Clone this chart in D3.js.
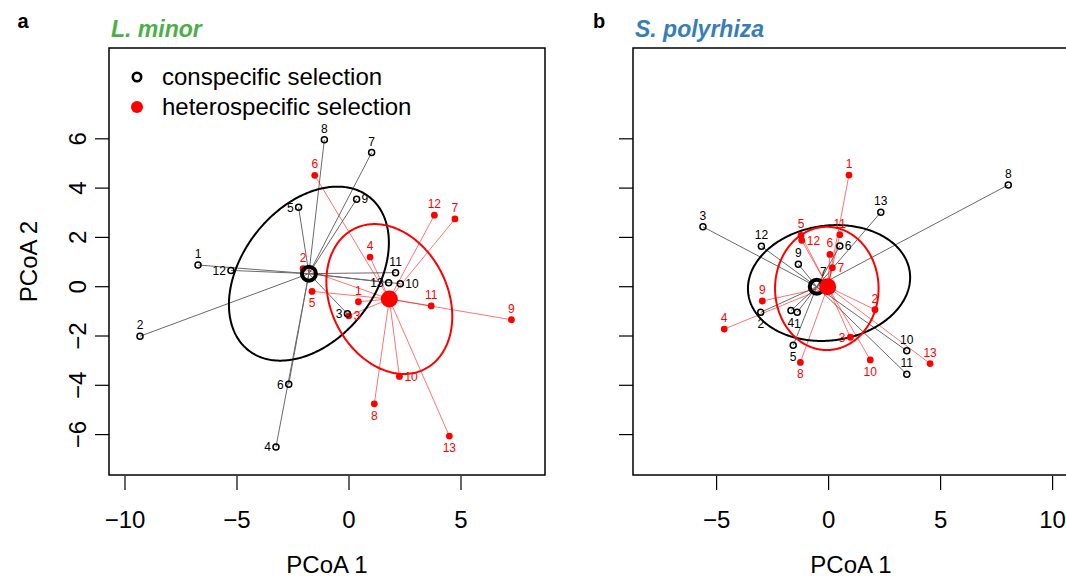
<!DOCTYPE html>
<html>
<head>
<meta charset="utf-8">
<script src="https://d3js.org/d3.v7.min.js"></script>
<style>
  html, body { margin: 0; padding: 0; background: #fff; }
  svg { display: block; font-family: "Liberation Sans", Arial, Helvetica, sans-serif; }
</style>
</head>
<body>
<svg id="chart" width="1066" height="579"></svg>
<script>
// ---------------- DATA ----------------
const ids = [1,2,3,4,5,6,7,8,9,10,11,12,13];

// Panel a (L. minor)
const aConX = [-6.74,-9.33,-0.07,-3.26,-2.25,-2.69, 1.01,-1.10, 0.34, 2.29, 2.08,-5.27, 1.77];
const aConY = [ 0.88,-2.01,-1.10,-6.50, 3.22,-3.96, 5.44, 5.96, 3.55, 0.12, 0.57, 0.66, 0.16];
const aHetX = [ 0.42,-2.05,-0.01, 0.94,-1.65,-1.53, 4.73, 1.13, 7.25, 2.25, 3.67, 3.81, 4.48];
const aHetY = [-0.61, 0.73,-1.18, 1.20,-0.19, 4.52, 2.75,-4.75,-1.34,-3.64,-0.78, 2.90,-6.06];
const aConCentroid = [-1.79, 0.53];
const aHetCentroid = [ 1.80,-0.50];
// ellipse: [cx, cy, sdx, sdy, rho]
const aConEllipse = [-1.79, 0.53, 3.57, 3.53, 0.356];
const aHetEllipse = [ 1.80,-0.50, 2.81, 3.04,-0.233];

// Panel b (S. polyrhiza)
const bConX = [-1.40,-3.03,-5.61,-1.68,-1.58, 0.50,-0.24, 8.02,-1.35, 3.49, 3.49,-3.00, 2.33];
const bConY = [-1.04,-1.04, 2.43,-0.97,-2.38, 1.65, 0.13, 4.13, 0.91,-2.60,-3.55, 1.64, 3.02];
const bHetX = [ 0.91, 2.07, 0.97,-4.66,-1.23, 0.06, 0.17,-1.26,-2.96, 1.86, 0.50,-1.20, 4.53];
const bHetY = [ 4.53,-0.93,-2.05,-1.72, 2.08, 1.31, 0.77,-3.07,-0.58,-2.97, 2.11, 1.88,-3.12];
const bConCentroid = [-0.53, 0.00];
const bHetCentroid = [-0.04, 0.00];
const bConEllipse = [ 0.02, 0.15, 3.62, 2.35, 0.096];
const bHetEllipse = [-0.08,-0.07, 2.31, 2.50, 0.0];

// label side codes (1 below, 2 left, 3 above, 4 right)
const aConPos = [3,3,2,2,2,2,3,3,4,4,3,2,2];
const aHetPos = [3,3,4,3,1,3,3,1,3,4,3,3,1];
const bConPos = [1,1,3,1,1,4,3,3,3,3,3,3,3];
const bHetPos = [3,3,2,3,3,3,4,1,3,1,3,4,3];

// axes
const aXTicks = [-10,-5,0,5];
const bXTicks = [-5,0,5,10];
const yTicks = [-6,-4,-2,0,2,4,6];
const aXLim = [-10.714, 8.75];
const bXLim = [-8.732, 10.732];
const yLim = [-7.639, 9.684];

const legendLabels = ["conspecific selection", "heterospecific selection"];

// ---------------- DRAW ----------------
const svg = d3.select("#chart");
const RED = "#ff0000";
const fmt = v => (v < 0 ? "\u2212" + Math.abs(v) : String(v));

function panel(opts) {
  const x = d3.scaleLinear().domain(opts.xlim).range([opts.left, opts.right]);
  const y = d3.scaleLinear().domain(yLim).range([475, 48]);
  const g = svg.append("g");
  const clipId = "clip" + opts.key;
  svg.append("clipPath").attr("id", clipId).append("rect")
    .attr("x", opts.left).attr("y", 48).attr("width", opts.right - opts.left).attr("height", 427);
  const pg = g.append("g").attr("clip-path", `url(#${clipId})`);

  // segments
  const con = ids.map((id, i) => ({id, x: opts.conX[i], y: opts.conY[i], pos: opts.conPos[i]}));
  const het = ids.map((id, i) => ({id, x: opts.hetX[i], y: opts.hetY[i], pos: opts.hetPos[i]}));
  pg.selectAll("line.con").data(con).enter().append("line")
    .attr("x1", d => x(d.x)).attr("y1", d => y(d.y))
    .attr("x2", x(opts.conC[0])).attr("y2", y(opts.conC[1]))
    .attr("stroke", "#6a6a6a").attr("stroke-width", 1);
  pg.selectAll("line.het").data(het).enter().append("line")
    .attr("x1", d => x(d.x)).attr("y1", d => y(d.y))
    .attr("x2", x(opts.hetC[0])).attr("y2", y(opts.hetC[1]))
    .attr("stroke", RED).attr("stroke-opacity", 0.55).attr("stroke-width", 1);

  // ellipses
  const ell = (p) => {
    const d = Math.acos(p[4]);
    const pts = d3.range(0, 361).map(k => {
      const t = k * Math.PI / 180;
      return [p[0] + p[2] * Math.cos(t), p[1] + p[3] * Math.cos(t + d)];
    });
    return d3.line().x(q => x(q[0])).y(q => y(q[1]))(pts);
  };
  pg.append("path").attr("d", ell(opts.conE)).attr("fill", "none").attr("stroke", "#000").attr("stroke-width", 2);
  pg.append("path").attr("d", ell(opts.hetE)).attr("fill", "none").attr("stroke", RED).attr("stroke-width", 2);

  // points
  pg.selectAll("circle.het").data(het).enter().append("circle")
    .attr("cx", d => x(d.x)).attr("cy", d => y(d.y)).attr("r", 3.4).attr("fill", RED);
  pg.selectAll("circle.con").data(con).enter().append("circle")
    .attr("cx", d => x(d.x)).attr("cy", d => y(d.y)).attr("r", 3)
    .attr("fill", "none").attr("stroke", "#000").attr("stroke-width", 1.5);
  // centroids
  pg.append("circle").attr("cx", x(opts.conC[0])).attr("cy", y(opts.conC[1])).attr("r", 7)
    .attr("fill", "none").attr("stroke", "#000").attr("stroke-width", 4);
  pg.append("circle").attr("cx", x(opts.hetC[0])).attr("cy", y(opts.hetC[1])).attr("r", 8.5)
    .attr("fill", RED);

  // labels
  const lab = (sel, color) => sel.enter().append("text")
    .attr("x", d => x(d.x) + (d.pos === 2 ? -5 : d.pos === 4 ? 5 : 0))
    .attr("y", d => y(d.y) + (d.pos === 3 ? -7 : d.pos === 1 ? 16 : 4.3))
    .attr("text-anchor", d => d.pos === 2 ? "end" : d.pos === 4 ? "start" : "middle")
    .attr("font-size", 12).attr("fill", color).text(d => d.id);
  lab(pg.selectAll("text.con").data(con), "#000");
  lab(pg.selectAll("text.het").data(het), RED);

  // box
  g.append("rect").attr("x", opts.left).attr("y", 48).attr("width", opts.right - opts.left).attr("height", 427)
    .attr("fill", "none").attr("stroke", "#000").attr("stroke-width", 1.5);

  // x axis
  const xa = g.append("g");
  xa.selectAll("line").data(opts.xTicks).enter().append("line")
    .attr("x1", d => x(d)).attr("x2", d => x(d)).attr("y1", 476).attr("y2", 490)
    .attr("stroke", "#000").attr("stroke-width", 1.2);
  xa.selectAll("text").data(opts.xTicks).enter().append("text")
    .attr("x", d => x(d)).attr("y", 528).attr("text-anchor", "middle")
    .attr("font-size", 24).text(fmt);
  g.append("text").attr("x", (opts.left + opts.right) / 2).attr("y", 573).attr("text-anchor", "middle")
    .attr("font-size", 24).text("PCoA 1");

  // y axis
  const ya = g.append("g");
  ya.selectAll("line").data(yTicks).enter().append("line")
    .attr("x1", opts.left - 14).attr("x2", opts.left).attr("y1", d => y(d)).attr("y2", d => y(d))
    .attr("stroke", "#000").attr("stroke-width", 1.2);
  if (opts.yLabels) {
    ya.selectAll("text").data(yTicks).enter().append("text")
      .attr("transform", d => `translate(${opts.left - 23},${y(d)}) rotate(-90)`)
      .attr("text-anchor", "middle").attr("font-size", 24).text(fmt);
    g.append("text").attr("transform", `translate(37,${(48 + 475) / 2}) rotate(-90)`)
      .attr("text-anchor", "middle").attr("font-size", 24).text("PCoA 2");
  }

  // titles
  g.append("text").attr("x", opts.tagX).attr("y", 28).attr("font-size", 20).attr("font-weight", "bold")
    .attr("text-anchor", "middle").text(opts.tag);
  g.append("text").attr("x", opts.left + 2).attr("y", 37).attr("font-size", 23).attr("font-weight", "bold")
    .attr("font-style", "italic").attr("fill", opts.titleColor).text(opts.title);
  return {x, y, g};
}

const pa = panel({key: "a", left: 109, right: 545, xlim: aXLim, xTicks: aXTicks, yLabels: true,
  conX: aConX, conY: aConY, hetX: aHetX, hetY: aHetY, conPos: aConPos, hetPos: aHetPos,
  conC: aConCentroid, hetC: aHetCentroid, conE: aConEllipse, hetE: aHetEllipse,
  tag: "a", tagX: 23, title: "L. minor", titleColor: "#4daf4a"});
panel({key: "b", left: 633, right: 1069, xlim: bXLim, xTicks: bXTicks, yLabels: false,
  conX: bConX, conY: bConY, hetX: bHetX, hetY: bHetY, conPos: bConPos, hetPos: bHetPos,
  conC: bConCentroid, hetC: bHetCentroid, conE: bConEllipse, hetE: bHetEllipse,
  tag: "b", tagX: 599, title: "S. polyrhiza", titleColor: "#377eb8"});

// legend (panel a)
const lg = svg.append("g");
lg.append("circle").attr("cx", 137).attr("cy", 77).attr("r", 4.2)
  .attr("fill", "none").attr("stroke", "#000").attr("stroke-width", 2.6);
lg.append("circle").attr("cx", 137).attr("cy", 107).attr("r", 6).attr("fill", RED);
lg.selectAll("text").data(legendLabels).enter().append("text")
  .attr("x", 162).attr("y", (d, i) => 85 + i * 30).attr("font-size", 24).text(d => d);
</script>
</body>
</html>
